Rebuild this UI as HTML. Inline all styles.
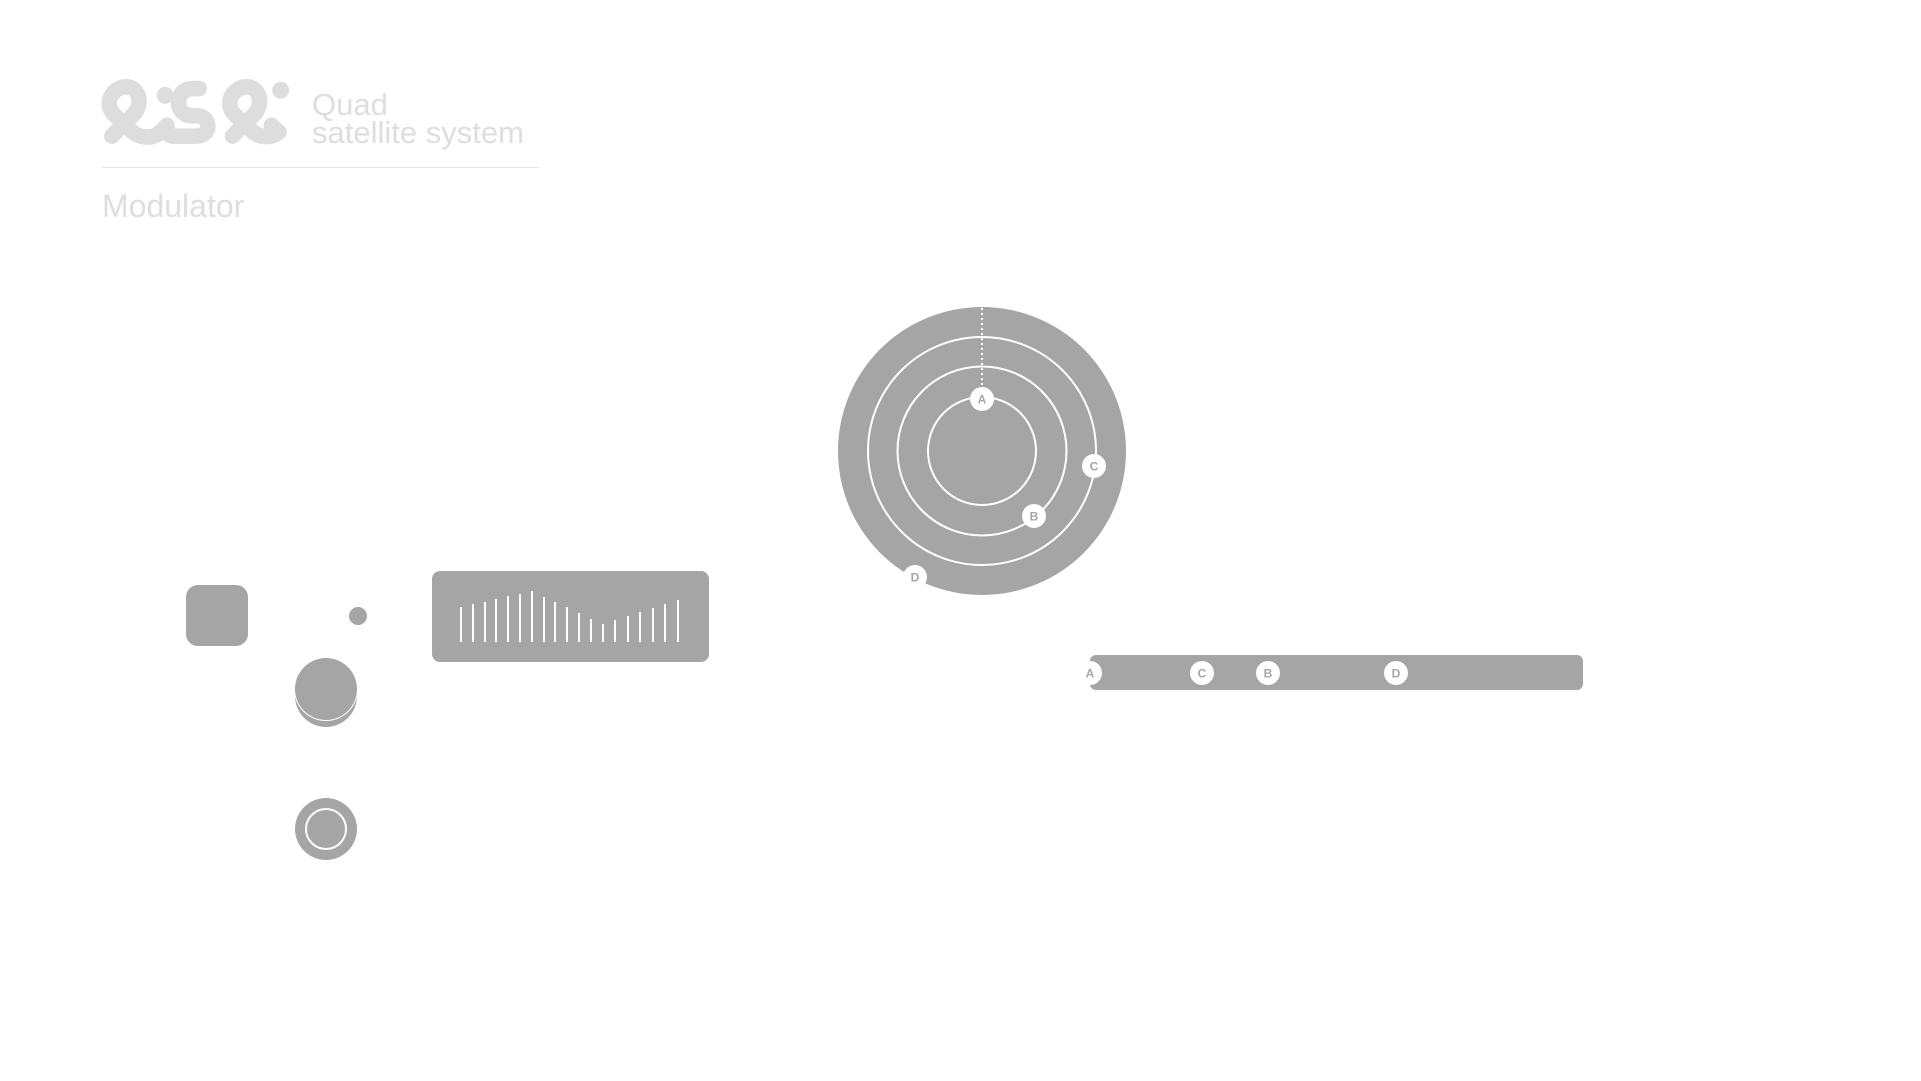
<!DOCTYPE html>
<html><head><meta charset="utf-8"><style>
html,body{margin:0;padding:0;background:#fff;width:1921px;height:1081px;overflow:hidden;position:relative;font-family:"Liberation Sans",sans-serif}
.t{position:absolute;color:#dedede;font-size:31px;line-height:1;white-space:nowrap}
</style></head><body>
<svg style="position:absolute;left:82px;top:68px" width="214" height="87" viewBox="0 0 630 255">
<g fill="none" stroke="#dddddd" stroke-width="46" stroke-linecap="round" stroke-linejoin="round">
<path d="M88,200 L150,138 C185,103 165,50 125,55 C85,60 62,108 98,140 L140,180 C170,210 210,208 230,188 L250,168 L250,180 C250,195 258,200 272,200 L335,200 C360,200 372,185 370,168 C368,150 355,140 338,140 L325,140 C295,140 282,118 285,95 C288,72 305,60 325,60 L345,60"/>
<path d="M443,200 L505,138 C540,103 520,50 480,55 C440,60 417,108 453,140 L495,180 C525,210 560,205 580,188 L558,168 L558,200"/>
</g>
<g fill="#dddddd"><circle cx="245" cy="80" r="25"/><circle cx="585" cy="65" r="25"/></g>
</svg>
<div class="t" style="left:312px;top:89px">Quad</div>
<div class="t" style="left:312px;top:117px">satellite system</div>
<div style="position:absolute;left:102px;top:167px;width:437px;height:1px;background:#e4e4e4"></div>
<div class="t" style="left:102px;top:190px;font-size:32px">Modulator</div>

<svg style="position:absolute;left:0;top:0" width="1921" height="1081">
<g fill="#a5a5a5">
<circle cx="982" cy="451" r="144"/>
<rect x="186" y="585" width="62" height="61" rx="12"/>
<circle cx="358" cy="616" r="9"/>
<circle cx="326" cy="696" r="31"/>
<circle cx="326" cy="829" r="31"/>
<rect x="432" y="571" width="277" height="91" rx="8"/>
<rect x="1090" y="655" width="493" height="35" rx="6"/>
</g>
<circle cx="326" cy="689" r="32" fill="#fff"/>
<circle cx="326" cy="689" r="31" fill="#a5a5a5"/>
<circle cx="326" cy="829" r="20" fill="none" stroke="#fff" stroke-width="2"/>
<g fill="none" stroke="#fff" stroke-width="2">
<circle cx="982" cy="451" r="114"/>
<circle cx="982" cy="451" r="84.5"/>
<circle cx="982" cy="451" r="54"/>
<line x1="982" y1="308" x2="982" y2="390" stroke-dasharray="2,3"/>
</g>
<g stroke="#fff" stroke-width="2">
<line x1="461" y1="607" x2="461" y2="642"/><line x1="473" y1="604" x2="473" y2="642"/>
<line x1="485" y1="602" x2="485" y2="642"/><line x1="496" y1="599" x2="496" y2="642"/>
<line x1="508" y1="596" x2="508" y2="642"/><line x1="520" y1="594" x2="520" y2="642"/>
<line x1="532" y1="591" x2="532" y2="642"/><line x1="544" y1="597" x2="544" y2="642"/>
<line x1="555" y1="602" x2="555" y2="642"/><line x1="567" y1="607" x2="567" y2="642"/>
<line x1="579" y1="613" x2="579" y2="642"/><line x1="591" y1="619" x2="591" y2="642"/>
<line x1="603" y1="624" x2="603" y2="642"/><line x1="615" y1="620" x2="615" y2="642"/>
<line x1="628" y1="616" x2="628" y2="642"/><line x1="640" y1="612" x2="640" y2="642"/>
<line x1="653" y1="608" x2="653" y2="642"/><line x1="665" y1="604" x2="665" y2="642"/>
<line x1="678" y1="600" x2="678" y2="642"/>
</g>
<g font-family="Liberation Sans, sans-serif" font-weight="bold" font-size="12" fill="#a5a5a5" text-anchor="middle">
<circle cx="982" cy="399" r="12" fill="#fff"/><text x="982" y="403.5">A</text>
<circle cx="1094" cy="466" r="12" fill="#fff"/><text x="1094" y="470.5">C</text>
<circle cx="1034" cy="516" r="12" fill="#fff"/><text x="1034" y="520.5">B</text>
<circle cx="915" cy="577" r="12" fill="#fff"/><text x="915" y="581.5">D</text>
<circle cx="1090" cy="673" r="12" fill="#fff"/><text x="1090" y="677.5">A</text>
<circle cx="1202" cy="673" r="12" fill="#fff"/><text x="1202" y="677.5">C</text>
<circle cx="1268" cy="673" r="12" fill="#fff"/><text x="1268" y="677.5">B</text>
<circle cx="1396" cy="673" r="12" fill="#fff"/><text x="1396" y="677.5">D</text>
</g>
</svg>
</body></html>
